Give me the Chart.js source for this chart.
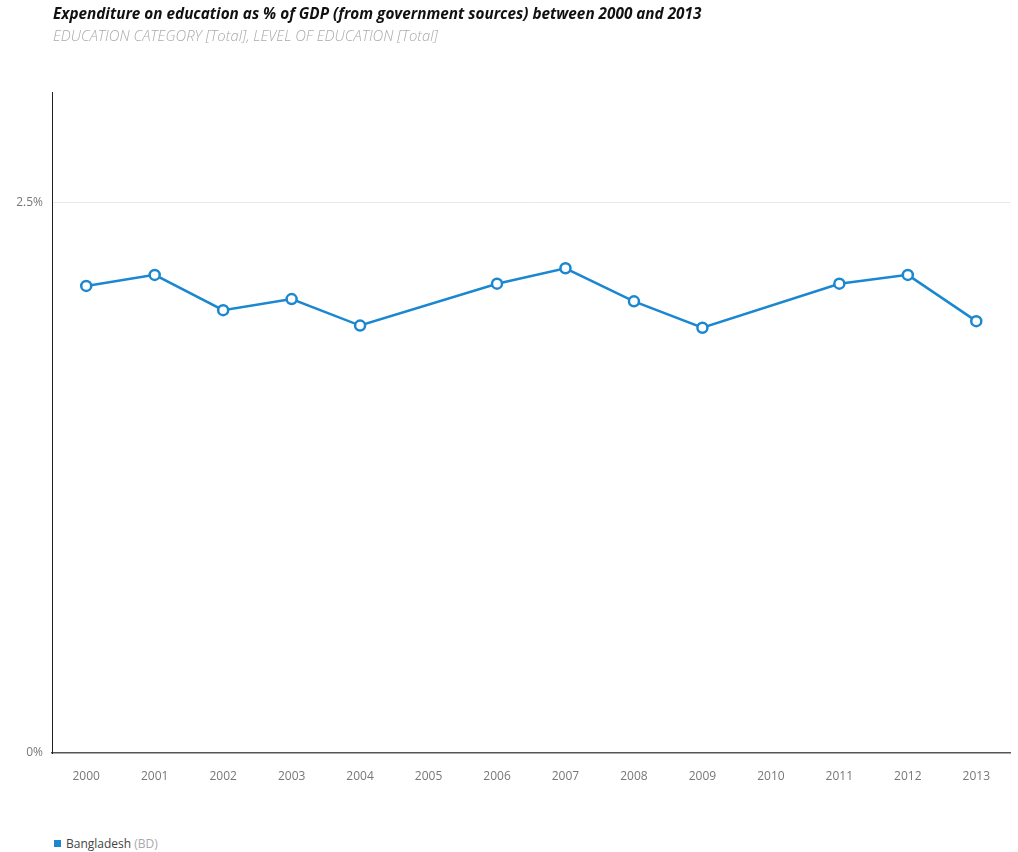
<!DOCTYPE html>
<html>
<head>
<meta charset="utf-8">
<script src="https://cdn.jsdelivr.net/npm/chart.js@4/dist/chart.umd.min.js"></script>
<style>
  body { margin: 0; background: #fff; font-family: "Open Sans", sans-serif; }
  #wrap { position: relative; width: 1018px; height: 852px; }
  #chart-box { position: absolute; left: 0; top: 0; width: 1018px; height: 800px; }
  .title { position: absolute; left: 53px; top: 3px; font-size: 15.3px; font-weight: 700; font-style: italic; color: #111; white-space: nowrap; }
  .subtitle { position: absolute; left: 53px; top: 25px; font-size: 14.8px; font-weight: 300; font-style: italic; color: #aaa; white-space: nowrap; }
  .legend { position: absolute; left: 54px; top: 835px; font-size: 12px; color: #444; white-space: nowrap; }
  .legend .sw { display: inline-block; width: 7px; height: 7px; background: #1b87d1; margin-right: 5px; vertical-align: 1px; }
  .legend .code { color: #aaa; }
</style>
</head>
<body>
<div id="wrap">
  <div id="chart-box"><canvas id="chart"></canvas></div>
  <div class="title">Expenditure on education as % of GDP (from government sources) between 2000 and 2013</div>
  <div class="subtitle">EDUCATION CATEGORY [Total], LEVEL OF EDUCATION [Total]</div>
  <div class="legend"><span class="sw"></span>Bangladesh <span class="code">(BD)</span></div>
</div>
<script>
// Data
const years = ['2000', '2001', '2002', '2003', '2004', '2005', '2006',
               '2007', '2008', '2009', '2010', '2011', '2012', '2013'];
const bangladesh = [2.12, 2.17, 2.01, 2.06, 1.94, null, 2.13,
                    2.20, 2.05, 1.93, null, 2.13, 2.17, 1.96];
const yTicks = [0, 2.5];

const lineColor = '#1b87d1';

const ctx = document.getElementById('chart').getContext('2d');
new Chart(ctx, {
    type: 'line',
    data: {
        labels: years,
        datasets: [{
            label: 'Bangladesh (BD)',
            data: bangladesh,
            borderColor: lineColor,
            backgroundColor: '#ffffff',
            borderWidth: 2.5,
            pointRadius: 5,
            pointBorderWidth: 2.5,
            pointBackgroundColor: '#ffffff',
            pointBorderColor: lineColor,
            tension: 0,
            spanGaps: true
        }]
    },
    options: {
        responsive: true,
        maintainAspectRatio: false,
        animation: false,
        layout: {
            padding: { top: 92, left: 0, right: 7, bottom: 0 }
        },
        plugins: {
            legend: { display: false },
            tooltip: { enabled: false }
        },
        scales: {
            x: {
                offset: true,
                grid: { display: false, drawTicks: false },
                border: { display: true, color: '#555', width: 1.5 },
                ticks: {
                    color: '#777',
                    padding: 16,
                    maxRotation: 0,
                    autoSkip: false,
                    font: { family: 'Open Sans', size: 12 }
                },
                afterFit: (scale) => { scale.height = 47; }
            },
            y: {
                min: 0,
                max: 3,
                afterBuildTicks: (scale) => {
                    scale.ticks = yTicks.map(v => ({ value: v }));
                },
                grid: {
                    drawTicks: false,
                    color: (c) => c.tick && c.tick.value === 0 ? 'rgba(0,0,0,0)' : '#e8e8e8',
                    lineWidth: 1
                },
                border: { display: true, color: '#222', width: 1 },
                ticks: {
                    color: '#777',
                    padding: 9,
                    font: { family: 'Open Sans', size: 12 },
                    callback: (v) => v + '%'
                },
                afterFit: (scale) => { scale.width = 52; }
            }
        }
    }
});
</script>
</body>
</html>
